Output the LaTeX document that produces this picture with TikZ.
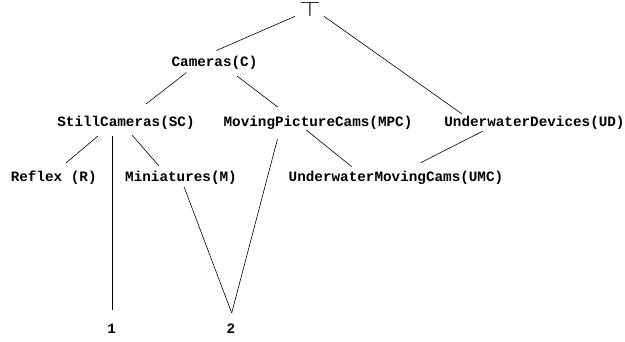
\documentclass[tikz,border=0pt]{standalone}
\usepackage{fontspec}
\setmonofont{Liberation Mono}
\usepackage{graphicx}
\usetikzlibrary{calc}

\tikzset{
  concept/.style={anchor=base, inner sep=0pt,
    font=\ttfamily\bfseries\fontsize{14.3}{16}\selectfont},
  link/.style={line width=0.6pt},
}

\begin{document}
\begin{tikzpicture}[x=1pt, y=-1pt]
    \useasboundingbox (0,0) rectangle (625,341);
    % top of the lattice
    \node[anchor=north, inner sep=0pt, font=\fontsize{20}{20}\selectfont]
      (top) at (310,1.5) {\scalebox{1.35}[1]{$\top$}};
    % concepts
    \node[concept] (C)   at (214.5,66.5) {Cameras(C)};
    \node[concept] (SC)  at (126,126.5)  {StillCameras(SC)};
    \node[concept] (MPC) at (318,126.5)  {MovingPictureCams(MPC)};
    \node[concept] (UD)  at (534.5,126.5) {UnderwaterDevices(UD)};
    \node[concept] (R)   at (53.7,181.5) {Reflex (R)};
    \node[concept] (M)   at (181,181.5)  {Miniatures(M)};
    \node[concept] (UMC) at (396,181.5)  {UnderwaterMovingCams(UMC)};
    \node[concept] (one) at (111.7,333)  {1};
    \node[concept] (two) at (231,333)    {2};
    % links
    \draw[link] ($(top.south)+(-15,0)$) -- ($(C.base)+(2,-16)$);
    \draw[link] ($(top.south)+(14,0)$) -- ($(UD.base)+(-72.5,-12.5)$);
    \draw[link] ($(C.base)+(-28,6)$) -- ($(SC.base)+(20,-22.5)$);
    \draw[link] ($(C.base)+(22.5,9.5)$) -- ($(MPC.base)+(-40.3,-19.5)$);
    \draw[link] ($(SC.base)+(-28,9.5)$) -- ($(R.base)+(12.3,-18.5)$);
    \draw[link] ($(SC.base)+(-13.3,9.5)$) -- ($(one.base)+(1,-23)$);
    \draw[link] ($(SC.base)+(6,8.5)$) -- ($(M.base)+(-22,-15.5)$);
    \draw[link] ($(MPC.base)+(-11.7,3.5)$) -- ($(UMC.base)+(-44.3,-14.8)$);
    \draw[link] ($(MPC.base)+(-40.5,12.5)$) -- ($(two.base)+(0.7,-20)$);
    \draw[link] ($(UD.base)+(-51.5,4.5)$) -- ($(UMC.base)+(24.7,-18.8)$);
    \draw[link] ($(M.base)+(3,5.2)$) -- ($(two.base)+(0.7,-20)$);
\end{tikzpicture}
\end{document}
